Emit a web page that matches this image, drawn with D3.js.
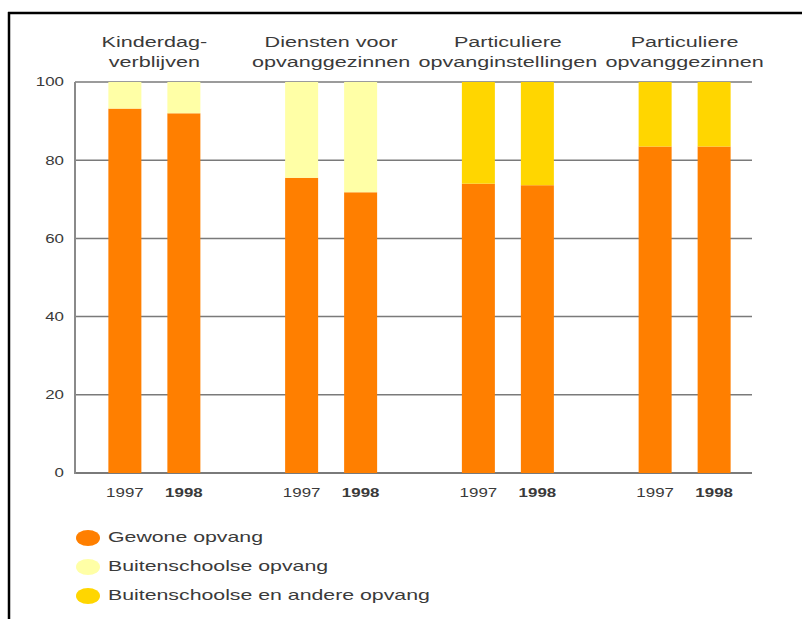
<!DOCTYPE html>
<html>
<head>
<meta charset="utf-8">
<script src="https://cdn.jsdelivr.net/npm/d3@7/dist/d3.min.js"></script>
<style>
  html, body { margin: 0; padding: 0; background: #fff; }
  svg { display: block; }
  text { font-family: "Liberation Sans", Arial, sans-serif; fill: #3a3a3a; }
</style>
</head>
<body>
<svg id="chart" width="802" height="619"></svg>
<script>
// ---- data ----
const categories = [
  ["Kinderdag-", "verblijven"],
  ["Diensten voor", "opvanggezinnen"],
  ["Particuliere", "opvanginstellingen"],
  ["Particuliere", "opvanggezinnen"]
];
const years = ["1997", "1998"];
// values per category, per year
const gewoneOpvang = [[93.2, 92.0], [75.5, 71.8], [74.0, 73.6], [83.5, 83.5]];
const buitenschoolseOpvang = [[6.8, 8.0], [24.5, 28.2], [0, 0], [0, 0]];
const buitenschoolseEnAndere = [[0, 0], [0, 0], [26.0, 26.4], [16.5, 16.5]];
const seriesNames = ["Gewone opvang", "Buitenschoolse opvang", "Buitenschoolse en andere opvang"];
const seriesColors = ["#ff7f00", "#ffffa6", "#ffd600"];
const yTicks = [0, 20, 40, 60, 80, 100];

// ---- layout ----
const svg = d3.select("#chart");

function stretchedText(sel, x, y, str, opts = {}) {
  const sx = opts.sx || 1.3;
  return sel.append("text")
    .attr("transform", `translate(${x},${y}) scale(${sx},1)`)
    .attr("text-anchor", opts.anchor || "start")
    .attr("dominant-baseline", "middle")
    .style("font-size", (opts.size || 14) + "px")
    .style("font-weight", opts.weight || "normal")
    .text(str);
}

// frame
svg.append("line").attr("x1", 8).attr("x2", 802).attr("y1", 13).attr("y2", 13)
  .attr("stroke", "#000").attr("stroke-width", 2.5);
svg.append("line").attr("x1", 9).attr("x2", 9).attr("y1", 12).attr("y2", 619)
  .attr("stroke", "#000").attr("stroke-width", 2.5);

const plotLeft = 75, plotRight = 752;
const y = d3.scaleLinear().domain([0, 100]).range([473, 82]);
const xGroup = d3.scaleBand().domain(d3.range(categories.length)).range([66, 773]).padding(0);
const xYear = d3.scalePoint().domain(years).range([xGroup.bandwidth() / 2 - 29.5, xGroup.bandwidth() / 2 + 29.5]);
const barW = 33;

// gridlines
svg.append("g").selectAll("line").data(yTicks).join("line")
  .attr("x1", plotLeft).attr("x2", plotRight)
  .attr("y1", d => y(d)).attr("y2", d => y(d))
  .attr("stroke", "#7a7a7a").attr("stroke-width", d => d === 0 ? 2 : 1.5);
// y axis line
svg.append("line").attr("x1", plotLeft).attr("x2", plotLeft)
  .attr("y1", y(100)).attr("y2", y(0) + 1)
  .attr("stroke", "#8a8a8a").attr("stroke-width", 2);

// y tick labels
const yLab = svg.append("g");
yTicks.forEach(t => stretchedText(yLab, 64, y(t) + 1, String(t), { anchor: "end", size: 13 }));

// stacked bars
const rows = [];
categories.forEach((c, ci) => {
  years.forEach((yr, yi) => {
    const vals = [gewoneOpvang[ci][yi], buitenschoolseOpvang[ci][yi], buitenschoolseEnAndere[ci][yi]];
    let acc = 0;
    vals.forEach((v, si) => {
      rows.push({ ci, yr, si, y0: acc, y1: acc + v });
      acc += v;
    });
  });
});
svg.append("g").selectAll("rect").data(rows.filter(d => d.y1 > d.y0)).join("rect")
  .attr("x", d => xGroup(d.ci) + xYear(d.yr) - barW / 2)
  .attr("width", barW)
  .attr("y", d => y(d.y1))
  .attr("height", d => y(d.y0) - y(d.y1))
  .attr("fill", d => seriesColors[d.si]);

// category titles
const titles = svg.append("g");
categories.forEach((lines, ci) => {
  const cx = xGroup(ci) + xGroup.bandwidth() / 2;
  lines.forEach((ln, li) => stretchedText(titles, cx, 43 + li * 20, ln, { anchor: "middle", size: 15, sx: 1.44 }));
});

// year labels
const yl = svg.append("g");
categories.forEach((c, ci) => {
  years.forEach((yr, yi) => {
    stretchedText(yl, xGroup(ci) + xYear(yr), 494, yr,
      { anchor: "middle", size: 13, weight: yi === 1 ? "bold" : "normal" });
  });
});

// legend
const leg = svg.append("g");
seriesNames.forEach((name, i) => {
  const ly = 538 + i * 29;
  leg.append("ellipse").attr("cx", 88).attr("cy", ly).attr("rx", 12).attr("ry", 8)
    .attr("fill", seriesColors[i]);
  stretchedText(leg, 108, ly, name, { size: 15, sx: 1.42 });
});
</script>
</body>
</html>
